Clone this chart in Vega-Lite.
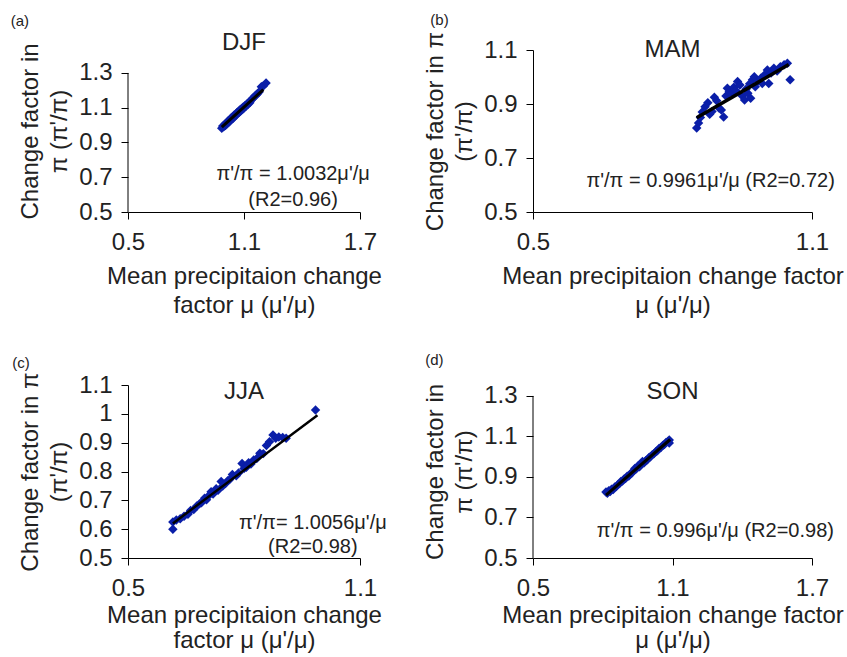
{
  "$schema": "https://vega.github.io/schema/vega-lite/v6.json",
  "background": "white",
  "padding": {"left": 10, "top": 13, "right": 0, "bottom": 2},
  "config": {
    "font": "Liberation Sans",
    "view": {"stroke": null},
    "axis": {"domainColor": "black", "tickColor": "black", "tickSize": 7, "labelFontSize": 24, "titleFontSize": 24, "labelColor": "#222", "titleColor": "#222", "grid": false, "titleFontWeight": "normal", "labelFont": "Liberation Sans", "titleFont": "Liberation Sans", "titleLineHeight": 29, "labelFlush": false, "labelOverlap": false},
    "axisX": {"labelPadding": 11, "titlePadding": 10},
    "axisY": {"labelPadding": 9, "titlePadding": 7},
    "text": {"font": "Liberation Sans", "color": "#222"}
  },
  "datasets": {
    "djf": [
      {"mu":0.985,"pi":0.982},{"mu":0.99,"pi":0.995},{"mu":0.995,"pi":0.99},{"mu":1.0,"pi":1.004},{"mu":1.004,"pi":0.998},{"mu":1.008,"pi":1.012},{"mu":1.012,"pi":1.008},{"mu":1.016,"pi":1.022},{"mu":1.02,"pi":1.015},{"mu":1.024,"pi":1.03},{"mu":1.028,"pi":1.024},{"mu":1.032,"pi":1.04},{"mu":1.036,"pi":1.033},{"mu":1.04,"pi":1.046},{"mu":1.044,"pi":1.04},{"mu":1.048,"pi":1.056},{"mu":1.052,"pi":1.05},{"mu":1.056,"pi":1.062},{"mu":1.06,"pi":1.058},{"mu":1.064,"pi":1.072},{"mu":1.068,"pi":1.066},{"mu":1.072,"pi":1.08},{"mu":1.076,"pi":1.074},{"mu":1.08,"pi":1.088},{"mu":1.084,"pi":1.082},{"mu":1.088,"pi":1.095},{"mu":1.092,"pi":1.09},{"mu":1.096,"pi":1.104},{"mu":1.1,"pi":1.098},{"mu":1.105,"pi":1.112},{"mu":1.11,"pi":1.108},{"mu":1.115,"pi":1.122},{"mu":1.12,"pi":1.118},{"mu":1.125,"pi":1.132},{"mu":1.13,"pi":1.128},{"mu":1.136,"pi":1.142},{"mu":1.142,"pi":1.15},{"mu":1.148,"pi":1.158},{"mu":1.155,"pi":1.166},{"mu":1.162,"pi":1.172},{"mu":1.17,"pi":1.18},{"mu":1.178,"pi":1.19},{"mu":1.19,"pi":1.22},{"mu":1.2,"pi":1.225},{"mu":1.214,"pi":1.242}
    ],
    "djf_fit": [{"mu":0.985,"pi":0.988},{"mu":1.2,"pi":1.204}],
    "mam": [
      {"mu":0.852,"pi":0.811},{"mu":0.856,"pi":0.83},{"mu":0.86,"pi":0.85},{"mu":0.864,"pi":0.87},{"mu":0.87,"pi":0.89},{"mu":0.876,"pi":0.905},{"mu":0.88,"pi":0.862},{"mu":0.885,"pi":0.872},{"mu":0.89,"pi":0.925},{"mu":0.895,"pi":0.912},{"mu":0.9,"pi":0.885},{"mu":0.905,"pi":0.878},{"mu":0.91,"pi":0.852},{"mu":0.915,"pi":0.93},{"mu":0.918,"pi":0.958},{"mu":0.922,"pi":0.945},{"mu":0.928,"pi":0.94},{"mu":0.932,"pi":0.962},{"mu":0.936,"pi":0.95},{"mu":0.94,"pi":0.983},{"mu":0.945,"pi":0.97},{"mu":0.95,"pi":0.93},{"mu":0.955,"pi":0.915},{"mu":0.958,"pi":0.955},{"mu":0.962,"pi":0.94},{"mu":0.966,"pi":0.975},{"mu":0.968,"pi":0.921},{"mu":0.972,"pi":0.99},{"mu":0.976,"pi":1.001},{"mu":0.978,"pi":0.964},{"mu":0.984,"pi":0.985},{"mu":0.99,"pi":0.995},{"mu":0.993,"pi":0.976},{"mu":0.998,"pi":1.008},{"mu":1.004,"pi":1.026},{"mu":1.007,"pi":0.976},{"mu":1.012,"pi":1.015},{"mu":1.018,"pi":1.032},{"mu":1.025,"pi":1.022},{"mu":1.032,"pi":1.038},{"mu":1.04,"pi":1.045},{"mu":1.047,"pi":1.051},{"mu":1.053,"pi":0.99}
    ],
    "mam_fit": [{"mu":0.852,"pi":0.849},{"mu":1.05,"pi":1.046}],
    "jja": [
      {"mu":0.616,"pi":0.6},{"mu":0.616,"pi":0.625},{"mu":0.625,"pi":0.632},{"mu":0.635,"pi":0.636},{"mu":0.645,"pi":0.645},{"mu":0.655,"pi":0.652},{"mu":0.662,"pi":0.665},{"mu":0.67,"pi":0.668},{"mu":0.678,"pi":0.68},{"mu":0.685,"pi":0.688},{"mu":0.69,"pi":0.692},{"mu":0.698,"pi":0.707},{"mu":0.703,"pi":0.702},{"mu":0.71,"pi":0.718},{"mu":0.715,"pi":0.73},{"mu":0.72,"pi":0.722},{"mu":0.728,"pi":0.74},{"mu":0.733,"pi":0.735},{"mu":0.741,"pi":0.765},{"mu":0.745,"pi":0.75},{"mu":0.752,"pi":0.758},{"mu":0.758,"pi":0.768},{"mu":0.763,"pi":0.772},{"mu":0.77,"pi":0.79},{"mu":0.78,"pi":0.785},{"mu":0.786,"pi":0.795},{"mu":0.795,"pi":0.828},{"mu":0.8,"pi":0.81},{"mu":0.806,"pi":0.815},{"mu":0.812,"pi":0.83},{"mu":0.818,"pi":0.826},{"mu":0.825,"pi":0.84},{"mu":0.833,"pi":0.845},{"mu":0.841,"pi":0.863},{"mu":0.85,"pi":0.862},{"mu":0.858,"pi":0.89},{"mu":0.866,"pi":0.903},{"mu":0.875,"pi":0.927},{"mu":0.882,"pi":0.915},{"mu":0.89,"pi":0.92},{"mu":0.9,"pi":0.918},{"mu":0.909,"pi":0.915},{"mu":0.985,"pi":1.013}
    ],
    "jja_fit": [{"mu":0.616,"pi":0.62},{"mu":0.99,"pi":0.995}],
    "son": [
      {"mu":0.814,"pi":0.826},{"mu":0.82,"pi":0.82},{"mu":0.826,"pi":0.832},{"mu":0.832,"pi":0.828},{"mu":0.838,"pi":0.84},{"mu":0.845,"pi":0.838},{"mu":0.852,"pi":0.85},{"mu":0.858,"pi":0.853},{"mu":0.865,"pi":0.862},{"mu":0.872,"pi":0.868},{"mu":0.878,"pi":0.878},{"mu":0.885,"pi":0.88},{"mu":0.892,"pi":0.89},{"mu":0.898,"pi":0.893},{"mu":0.905,"pi":0.903},{"mu":0.912,"pi":0.905},{"mu":0.918,"pi":0.915},{"mu":0.925,"pi":0.92},{"mu":0.932,"pi":0.93},{"mu":0.938,"pi":0.942},{"mu":0.945,"pi":0.94},{"mu":0.952,"pi":0.955},{"mu":0.958,"pi":0.95},{"mu":0.965,"pi":0.968},{"mu":0.971,"pi":0.976},{"mu":0.978,"pi":0.97},{"mu":0.985,"pi":0.98},{"mu":0.992,"pi":0.985},{"mu":0.998,"pi":0.995},{"mu":1.005,"pi":1.0},{"mu":1.012,"pi":1.008},{"mu":1.02,"pi":1.015},{"mu":1.028,"pi":1.025},{"mu":1.035,"pi":1.03},{"mu":1.042,"pi":1.04},{"mu":1.05,"pi":1.045},{"mu":1.058,"pi":1.055},{"mu":1.065,"pi":1.06},{"mu":1.072,"pi":1.07},{"mu":1.08,"pi":1.075},{"mu":1.086,"pi":1.068},{"mu":1.086,"pi":1.082}
    ],
    "son_fit": [{"mu":0.814,"pi":0.81},{"mu":1.09,"pi":1.085}]
  },
  "columns": 2,
  "align": "each",
  "spacing": {"row": 35, "column": 36},
  "concat": [
    {
      "width": 232, "height": 162,
      "data": {"name": "djf"},
      "encoding": {
        "x": {"field": "mu", "type": "quantitative", "scale": {"domain": [0.5, 1.7], "nice": false, "zero": false}, "axis": {"values": [0.5, 1.1, 1.7], "format": ".1f", "title": ["Mean precipitaion change", "factor μ (μ'/μ)"]}},
        "y": {"field": "pi", "type": "quantitative", "scale": {"domain": [0.5, 1.432], "nice": false, "zero": false}, "axis": {"values": [0.5, 0.7, 0.9, 1.1, 1.3], "format": ".1f", "domain": false, "title": ["Change factor in", "π  (π'/π)"]}}
      },
      "layer": [
        {"transform": [{"aggregate": [{"op": "min", "field": "mu", "as": "mu"}, {"op": "min", "field": "pi", "as": "pi"}]}], "mark": {"type": "rule", "color": "black", "strokeWidth": 1}, "encoding": {"x": {"datum": 0.5}, "y": {"datum": 0.5}, "y2": {"datum": 1.3}}},
        {"mark": {"type": "point", "shape": "diamond", "filled": true, "size": 90, "color": "#0a1ea8", "opacity": 1}},
        {"data": {"name": "djf_fit"}, "mark": {"type": "line", "color": "black", "strokeWidth": 3}},
        {"transform": [{"aggregate": [{"op": "min", "field": "mu", "as": "mu"}, {"op": "min", "field": "pi", "as": "pi"}]}], "mark": {"type": "text", "fontSize": 24, "baseline": "middle"}, "encoding": {"x": {"datum": 1.1}, "y": {"datum": 1.473}, "text": {"value": "DJF"}}},
        {"transform": [{"aggregate": [{"op": "min", "field": "mu", "as": "mu"}, {"op": "min", "field": "pi", "as": "pi"}]}], "mark": {"type": "text", "fontSize": 20, "baseline": "middle", "lineHeight": 26}, "encoding": {"x": {"datum": 1.354}, "y": {"datum": 0.719}, "text": {"value": ["π'/π = 1.0032μ'/μ", "(R2=0.96)"]}}},
        {"transform": [{"aggregate": [{"op": "min", "field": "mu", "as": "mu"}, {"op": "min", "field": "pi", "as": "pi"}]}], "mark": {"type": "text", "fontSize": 15, "baseline": "middle"}, "encoding": {"x": {"datum": -0.059}, "y": {"datum": 1.599}, "text": {"value": "(a)"}}}
      ]
    },
    {
      "width": 279, "height": 162,
      "data": {"name": "mam"},
      "encoding": {
        "x": {"field": "mu", "type": "quantitative", "scale": {"domain": [0.5, 1.1], "nice": false, "zero": false}, "axis": {"values": [0.5, 1.1], "format": ".1f", "title": ["Mean precipitaion change factor", "μ (μ'/μ)"]}},
        "y": {"field": "pi", "type": "quantitative", "scale": {"domain": [0.5, 1.1], "nice": false, "zero": false}, "axis": {"values": [0.5, 0.7, 0.9, 1.1], "format": ".1f", "title": ["Change factor in π", "(π'/π)"]}}
      },
      "layer": [
        {"mark": {"type": "point", "shape": "diamond", "filled": true, "size": 90, "color": "#0a1ea8", "opacity": 1}},
        {"data": {"name": "mam_fit"}, "mark": {"type": "line", "color": "black", "strokeWidth": 3.5}},
        {"transform": [{"aggregate": [{"op": "min", "field": "mu", "as": "mu"}, {"op": "min", "field": "pi", "as": "pi"}]}], "mark": {"type": "text", "fontSize": 24, "baseline": "middle"}, "encoding": {"x": {"datum": 0.8}, "y": {"datum": 1.1}, "text": {"value": "MAM"}}},
        {"transform": [{"aggregate": [{"op": "min", "field": "mu", "as": "mu"}, {"op": "min", "field": "pi", "as": "pi"}]}], "mark": {"type": "text", "fontSize": 20, "baseline": "middle"}, "encoding": {"x": {"datum": 0.882}, "y": {"datum": 0.615}, "text": {"value": "π'/π = 0.9961μ'/μ (R2=0.72)"}}},
        {"transform": [{"aggregate": [{"op": "min", "field": "mu", "as": "mu"}, {"op": "min", "field": "pi", "as": "pi"}]}], "mark": {"type": "text", "fontSize": 15, "baseline": "middle"}, "encoding": {"x": {"datum": 0.299}, "y": {"datum": 1.211}, "text": {"value": "(b)"}}}
      ]
    },
    {
      "width": 232, "height": 173,
      "data": {"name": "jja"},
      "encoding": {
        "x": {"field": "mu", "type": "quantitative", "scale": {"domain": [0.5, 1.1], "nice": false, "zero": false}, "axis": {"values": [0.5, 1.1], "format": ".1f", "titlePadding": 3, "titleLineHeight": 25, "title": ["Mean precipitaion change", "factor μ (μ'/μ)"]}},
        "y": {"field": "pi", "type": "quantitative", "scale": {"domain": [0.5, 1.1], "nice": false, "zero": false}, "axis": {"values": [0.5, 0.6, 0.7, 0.8, 0.9, 1, 1.1], "format": "~g", "title": ["Change factor in π", "(π'/π)"]}}
      },
      "layer": [
        {"mark": {"type": "point", "shape": "diamond", "filled": true, "size": 90, "color": "#0a1ea8", "opacity": 1}},
        {"data": {"name": "jja_fit"}, "mark": {"type": "line", "color": "black", "strokeWidth": 2.5}},
        {"transform": [{"aggregate": [{"op": "min", "field": "mu", "as": "mu"}, {"op": "min", "field": "pi", "as": "pi"}]}], "mark": {"type": "text", "fontSize": 24, "baseline": "middle"}, "encoding": {"x": {"datum": 0.8}, "y": {"datum": 1.076}, "text": {"value": "JJA"}}},
        {"transform": [{"aggregate": [{"op": "min", "field": "mu", "as": "mu"}, {"op": "min", "field": "pi", "as": "pi"}]}], "mark": {"type": "text", "fontSize": 20, "baseline": "middle", "lineHeight": 24}, "encoding": {"x": {"datum": 0.978}, "y": {"datum": 0.62}, "text": {"value": ["π'/π= 1.0056μ'/μ", "(R2=0.98)"]}}},
        {"transform": [{"aggregate": [{"op": "min", "field": "mu", "as": "mu"}, {"op": "min", "field": "pi", "as": "pi"}]}], "mark": {"type": "text", "fontSize": 15, "baseline": "middle"}, "encoding": {"x": {"datum": 0.223}, "y": {"datum": 1.176}, "text": {"value": "(c)"}}}
      ]
    },
    {
      "width": 279, "height": 173,
      "data": {"name": "son"},
      "encoding": {
        "x": {"field": "mu", "type": "quantitative", "scale": {"domain": [0.5, 1.7], "nice": false, "zero": false}, "axis": {"values": [0.5, 1.1, 1.7], "format": ".1f", "titlePadding": 3, "titleLineHeight": 25, "title": ["Mean precipitaion change factor", "μ (μ'/μ)"]}},
        "y": {"field": "pi", "type": "quantitative", "scale": {"domain": [0.5, 1.354], "nice": false, "zero": false}, "axis": {"values": [0.5, 0.7, 0.9, 1.1, 1.3], "format": ".1f", "domain": false, "title": ["Change factor in", "π  (π'/π)"]}}
      },
      "layer": [
        {"transform": [{"aggregate": [{"op": "min", "field": "mu", "as": "mu"}, {"op": "min", "field": "pi", "as": "pi"}]}], "mark": {"type": "rule", "color": "black", "strokeWidth": 1}, "encoding": {"x": {"datum": 0.5}, "y": {"datum": 0.5}, "y2": {"datum": 1.3}}},
        {"mark": {"type": "point", "shape": "diamond", "filled": true, "size": 90, "color": "#0a1ea8", "opacity": 1}},
        {"data": {"name": "son_fit"}, "mark": {"type": "line", "color": "black", "strokeWidth": 3}},
        {"transform": [{"aggregate": [{"op": "min", "field": "mu", "as": "mu"}, {"op": "min", "field": "pi", "as": "pi"}]}], "mark": {"type": "text", "fontSize": 24, "baseline": "middle"}, "encoding": {"x": {"datum": 1.1}, "y": {"datum": 1.32}, "text": {"value": "SON"}}},
        {"transform": [{"aggregate": [{"op": "min", "field": "mu", "as": "mu"}, {"op": "min", "field": "pi", "as": "pi"}]}], "mark": {"type": "text", "fontSize": 20, "baseline": "middle"}, "encoding": {"x": {"datum": 1.284}, "y": {"datum": 0.633}, "text": {"value": "π'/π = 0.996μ'/μ (R2=0.98)"}}},
        {"transform": [{"aggregate": [{"op": "min", "field": "mu", "as": "mu"}, {"op": "min", "field": "pi", "as": "pi"}]}], "mark": {"type": "text", "fontSize": 15, "baseline": "middle"}, "encoding": {"x": {"datum": 0.076}, "y": {"datum": 1.478}, "text": {"value": "(d)"}}}
      ]
    }
  ]
}
